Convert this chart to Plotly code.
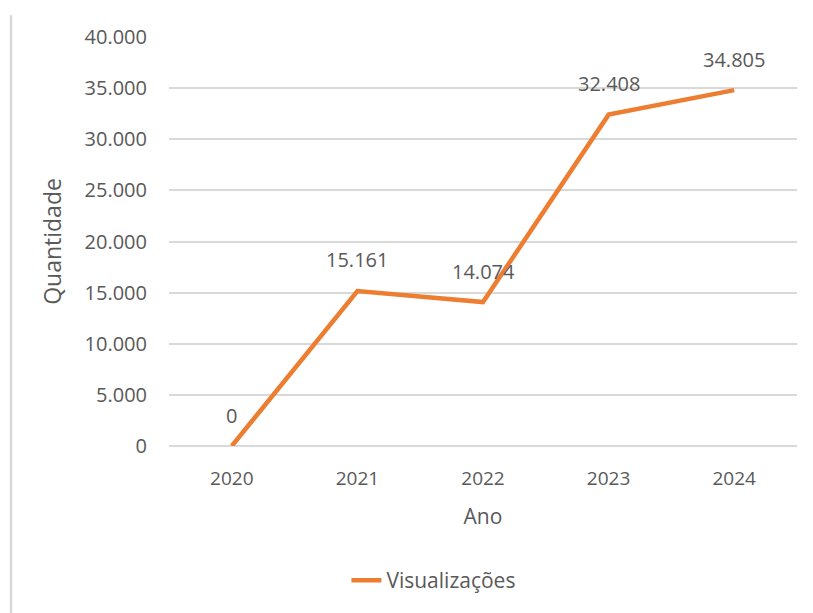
import plotly.graph_objects as go

anos = ["2020", "2021", "2022", "2023", "2024"]
visualizacoes = [0, 15161, 14074, 32408, 34805]
rotulos = ["0", "15.161", "14.074", "32.408", "34.805"]
y_ticks = [0, 5000, 10000, 15000, 20000, 25000, 30000, 35000, 40000]

LINE = "#ED7D31"
TXT = "#595959"
GRID = "#D9D9D9"
FONT = "Open Sans, Noto Sans, sans-serif"

fig = go.Figure()
fig.add_trace(go.Scatter(
    x=anos, y=visualizacoes, mode="lines", name="Visualizações",
    line=dict(color=LINE, width=4.5), hoverinfo="skip",
))

for i, (v, t) in enumerate(zip(visualizacoes, rotulos)):
    fig.add_annotation(x=i, y=v, xref="x", yref="y", text=t, showarrow=False, yshift=31,
                       font=dict(family=FONT, size=20, color=TXT))

# left border line
fig.add_shape(type="line", xref="paper", yref="paper",
              x0=-0.2516, x1=-0.2516, y0=-0.45, y1=1.053,
              line=dict(color=GRID, width=2.5))

fig.update_layout(
    width=805, height=605,
    margin=dict(l=161, r=16, t=29, b=163),
    paper_bgcolor="white", plot_bgcolor="white",
    separators=",.",
    font=dict(family=FONT, color=TXT, size=20),
    showlegend=True,
    legend=dict(orientation="h", x=0.2825, xanchor="left", y=-0.329, yanchor="middle",
                font=dict(family=FONT, size=21, color=TXT)),
    xaxis=dict(
        type="category", showgrid=False, showline=False, zeroline=False,
        ticks="outside", ticklen=15, tickcolor="white",
        tickfont=dict(family=FONT, size=19, color=TXT),
        title=dict(text="Ano", font=dict(family=FONT, size=21, color=TXT), standoff=19),
        range=[-0.5, 4.5],
    ),
    yaxis=dict(
        range=[0, 40000], tickvals=y_ticks, tickformat=",d",
        showgrid=True, gridcolor=GRID, gridwidth=2,
        zeroline=True, zerolinecolor=GRID, zerolinewidth=2,
        showline=False, ticks="outside", ticklen=17, tickcolor="white",
        tickfont=dict(family=FONT, size=20, color=TXT),
        title=dict(text="Quantidade", font=dict(family=FONT, size=23, color=TXT), standoff=16),
    ),
)

fig.write_html("out.html")
